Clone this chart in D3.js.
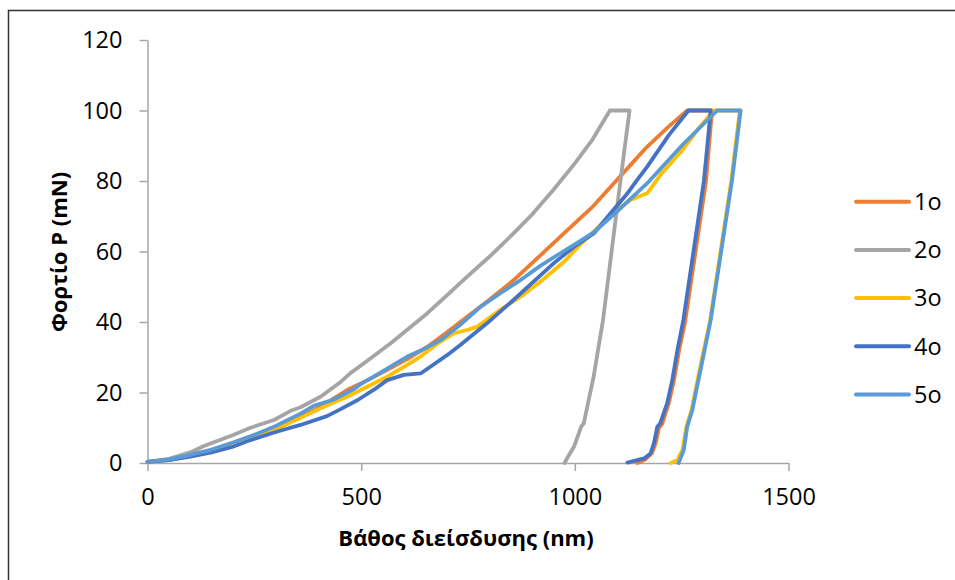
<!DOCTYPE html>
<html>
<head>
<meta charset="utf-8">
<script src="https://cdn.jsdelivr.net/npm/d3@7"></script>
<style>
  body { margin: 0; background: #fff; }
  svg { font-family: "Open Sans", "Liberation Sans", sans-serif; }
</style>
</head>
<body>
<div id="chart"></div>
<script>
// load-depth curves (depth in nm, load in mN)
var seriesNames = ["1o", "2o", "3o", "4o", "5o"];
var seriesColors = ["#ED7D31", "#A5A5A5", "#FFC000", "#4472C4", "#5B9BD5"];
var xTicks = [0, 500, 1000, 1500];
var yTicks = [0, 20, 40, 60, 80, 100, 120];

var depth1 = [0, 50, 100, 150, 200, 250, 300, 358, 405, 467, 520, 561, 610, 655, 700, 748, 800, 857, 920, 982, 1040, 1091, 1130, 1169, 1220, 1263, 1321,
  1307, 1258, 1244, 1232, 1220, 1204, 1197, 1189, 1180, 1165, 1146];
var load1 = [0.3, 0.9, 2.2, 3.6, 5.5, 7.6, 10, 13, 16, 20.7, 23.8, 26.4, 29.6, 33, 37, 41.5, 46.3, 51.9, 59, 66, 72.5, 79.3, 84.5, 89.7, 95.5, 100, 100,
  80, 40, 32, 23.5, 17, 11, 10, 5.6, 2.7, 1, 0];

var depth2 = [0, 50, 100, 132, 202, 241, 296, 335, 358, 405, 452, 475, 520, 569, 610, 655, 700, 748, 800, 857, 900, 950, 1000, 1040, 1082, 1128,
  1107, 1066, 1044, 1021, 1015, 998, 985, 976];
var load2 = [0.3, 1.2, 3, 4.8, 8, 10, 12.2, 14.8, 15.8, 18.8, 23, 25.5, 29.5, 34, 38, 42.5, 47.5, 52.9, 58.5, 65.2, 70.5, 77.5, 85, 91.5, 100, 100,
  80.3, 40.6, 24.5, 11.3, 10.3, 4.6, 2, 0];

var depth3 = [0, 50, 100, 150, 200, 250, 300, 358, 405, 467, 520, 561, 600, 639, 680, 717, 750, 772, 820, 873, 920, 974, 1013, 1060, 1100, 1130, 1169, 1181, 1200, 1250, 1290, 1325, 1386,
  1366, 1316, 1300, 1284, 1273, 1261, 1252, 1240, 1224];
var load3 = [0.3, 0.8, 2, 3.4, 5.2, 7.3, 9.6, 12.8, 15.5, 18.8, 22, 24.5, 27.3, 30.2, 34, 36.8, 37.8, 38.7, 43, 47.2, 51.5, 57, 62, 67.5, 72, 74.6, 76.5, 78.4, 81.7, 88.5, 95, 100, 100,
  80, 40, 31, 21.6, 15, 10.3, 3.7, 0.8, 0];

var depth4 = [0, 50, 100, 150, 200, 241, 300, 358, 420, 452, 491, 530, 561, 600, 639, 662, 701, 732, 795, 857, 951, 1000, 1045, 1083, 1120, 1146, 1169, 1220, 1266, 1318,
  1302, 1254, 1240, 1228, 1216, 1200, 1193, 1185, 1177, 1162, 1123];
var load4 = [0.3, 0.8, 1.8, 3, 4.6, 6.5, 8.8, 10.8, 13.3, 15.3, 17.8, 20.8, 23.5, 25, 25.4, 27.3, 30.6, 33.5, 39.7, 46.3, 56.7, 61.5, 65.2, 70.8, 76, 80.3, 84, 93, 100, 100,
  80, 40.6, 32, 23.5, 16.9, 11.3, 10.3, 5.6, 2.7, 1.3, 0.1];

var depth5 = [0, 50, 100, 150, 200, 250, 300, 358, 389, 436, 483, 498, 550, 608, 650, 686, 730, 779, 830, 873, 920, 966, 1013, 1045, 1100, 1169, 1250, 1333, 1388,
  1368, 1318, 1302, 1286, 1275, 1263, 1255, 1243];
var load5 = [0.3, 1, 2.3, 3.8, 5.8, 8, 10.5, 14, 16.2, 18, 21, 22.3, 26, 30.2, 32.5, 34.9, 39, 44.3, 48.5, 51.9, 56, 59.5, 63, 65.5, 71.5, 79.3, 90, 100, 100,
  80.3, 40.6, 31, 21.6, 15, 10.3, 3.7, 0];

var depths = [depth1, depth2, depth3, depth4, depth5];
var loads = [load1, load2, load3, load4, load5];

var svgWidth = 955;
var svgHeight = 580;

var svg = d3.select("#chart")
    .append("svg")
    .attr("width", svgWidth)
    .attr("height", svgHeight);

// chart frame (cut off at right/bottom like the picture)
svg.append("rect")
    .attr("x", 8.5)
    .attr("y", 10.5)
    .attr("width", 1000)
    .attr("height", 1000)
    .attr("fill", "none")
    .attr("stroke", "#333")
    .attr("stroke-width", 1.5);

var xScale = d3.scaleLinear().domain([0, 1500]).range([147.5, 788.5]);
var yScale = d3.scaleLinear().domain([0, 120]).range([463, 40]);

var xAxis = d3.axisBottom(xScale).tickValues(xTicks).tickFormat(d3.format("d")).tickSize(8).tickSizeOuter(0);
var yAxis = d3.axisLeft(yScale).tickValues(yTicks).tickFormat(d3.format("d")).tickSize(8).tickSizeOuter(0).tickPadding(17);

var gx = svg.append("g")
    .attr("transform", "translate(0,463)")
    .call(xAxis);
gx.selectAll("text")
    .attr("dy", null)
    .attr("y", 42);

var gy = svg.append("g")
    .attr("transform", "translate(147.5,0)")
    .call(yAxis);

svg.selectAll(".domain, .tick line")
    .attr("stroke", "#a6a6a6")
    .attr("stroke-width", 1.5);
svg.selectAll(".tick text")
    .attr("font-size", 23.5)
    .attr("fill", "#000")
    .attr("font-family", "Open Sans, sans-serif");

// curves
var line = d3.line()
    .x(d => xScale(d[0]))
    .y(d => yScale(d[1]));

seriesNames.forEach(function(name, i) {
    var pts = depths[i].map((dv, j) => [dv, loads[i][j]]);
    svg.append("path")
        .datum(pts)
        .attr("d", line)
        .attr("fill", "none")
        .attr("stroke", seriesColors[i])
        .attr("stroke-width", 3.8)
        .attr("stroke-linejoin", "round")
        .attr("stroke-linecap", "round");
});

// legend
var legend = svg.append("g");
seriesNames.forEach(function(name, i) {
    var ly = 201.7 + i * 48.2;
    legend.append("line")
        .attr("x1", 856).attr("x2", 909)
        .attr("y1", ly).attr("y2", ly)
        .attr("stroke", seriesColors[i])
        .attr("stroke-width", 4)
        .attr("stroke-linecap", "round");
    legend.append("text")
        .attr("x", 914)
        .attr("y", ly)
        .attr("dy", "0.35em")
        .attr("font-size", 23.5)
        .text(name);
});

// axis titles
svg.append("text")
    .attr("x", 466)
    .attr("y", 546)
    .attr("text-anchor", "middle")
    .attr("font-weight", "bold")
    .attr("font-size", 22)
    .text("Βάθος διείσδυσης (nm)");

svg.append("text")
    .attr("transform", "translate(67,252) rotate(-90)")
    .attr("text-anchor", "middle")
    .attr("font-weight", "bold")
    .attr("font-size", 22)
    .text("Φορτίο P (mN)");
</script>
</body>
</html>
